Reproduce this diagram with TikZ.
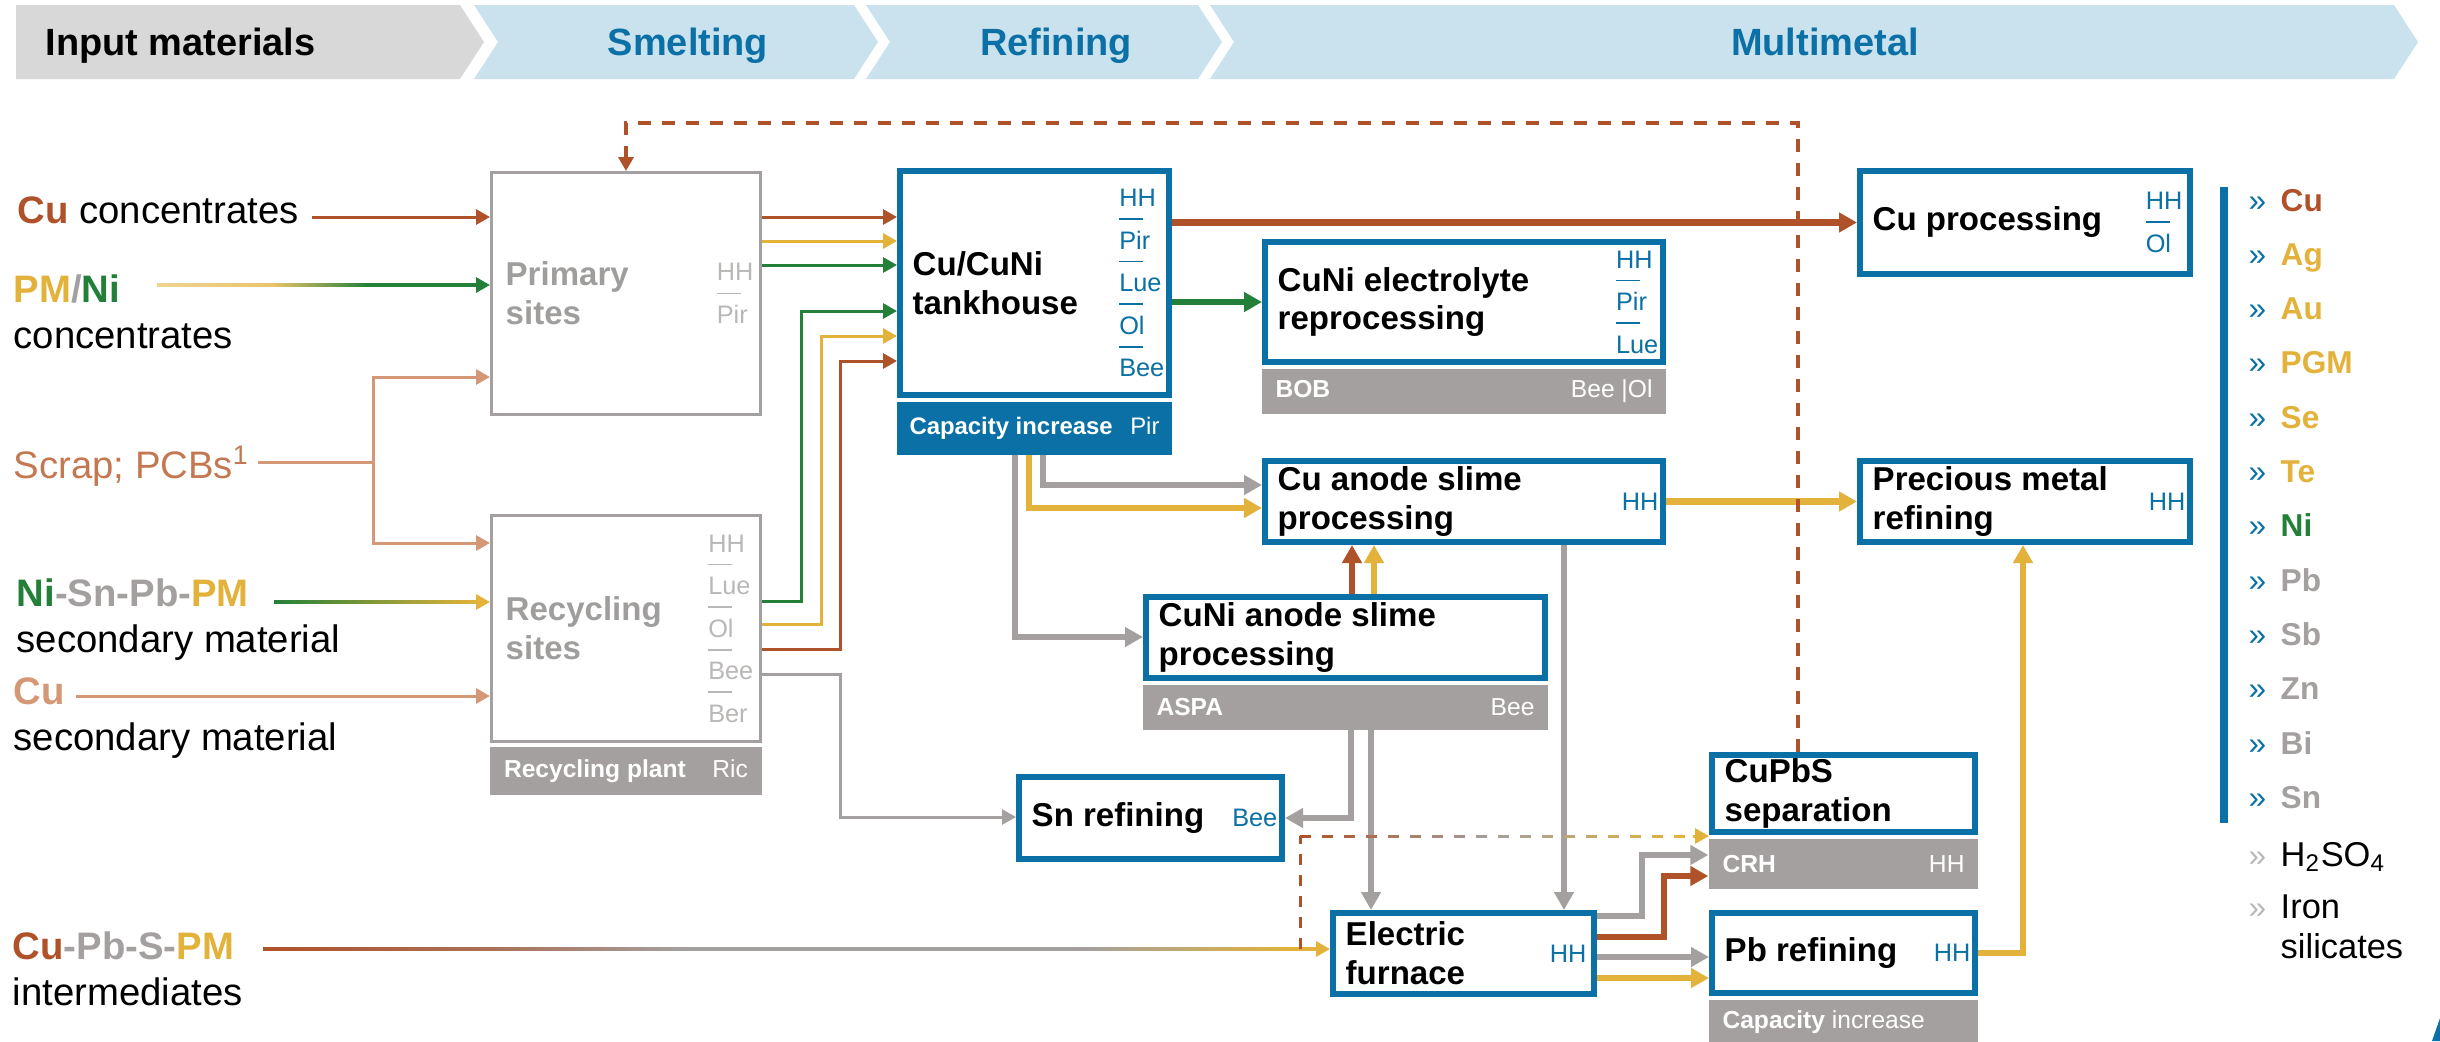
\documentclass[tikz,border=0pt]{standalone}
\usepackage{fontspec}
\setmainfont{Liberation Sans}
\usepackage{tikz}
\usetikzlibrary{calc, positioning, arrows.meta}

\definecolor{cbrown}{RGB}{176,82,41}
\definecolor{ctan}{RGB}{212,152,118}
\definecolor{ctantxt}{RGB}{196,120,82}
\definecolor{cyellow}{RGB}{226,178,58}
\definecolor{cgreen}{RGB}{36,128,57}
\definecolor{cgray}{RGB}{164,160,159}
\definecolor{cgraytxt}{RGB}{160,158,157}
\definecolor{cgraylt}{RGB}{186,184,183}
\definecolor{cblue}{RGB}{10,112,165}
\definecolor{hdrblue}{RGB}{202,226,237}
\definecolor{hdrgray}{RGB}{216,216,216}

\newcommand\insize{\fontsize{10.9pt}{13.2pt}\selectfont}
\newcommand\titlesize{\fontsize{9.4pt}{11pt}\selectfont\bfseries}
\newcommand\locsize{\fontsize{7.2pt}{12.1pt}\selectfont}
\newcommand\barsize{\fontsize{7pt}{8pt}\selectfont}
\newcommand\hdrsize{\fontsize{10.8pt}{13pt}\selectfont\bfseries}
\newcommand\lgsize{\fontsize{9pt}{11pt}\selectfont}
\newcommand\sepl[1]{\rlap{\raisebox{1.15em}{\rule{0.95em}{0.5pt}}}#1}

\pgfdeclarehorizontalshading{pmnishade}{100bp}{color(0bp)=(cyellow!55!white); color(25bp)=(cyellow!55!white); color(43bp)=(cyellow!75!white); color(58bp)=(cgreen); color(75bp)=(cgreen); color(100bp)=(cgreen)}
\pgfdeclarehorizontalshading{cupbsshade}{100bp}{color(0bp)=(cbrown); color(25bp)=(cbrown); color(36bp)=(cbrown!60!cgray); color(45bp)=(cgray); color(64bp)=(cgray); color(74bp)=(cyellow); color(100bp)=(cyellow)}

\begin{document}
\begin{tikzpicture}[x=0.1mm, y=-0.1mm,
    >={Triangle[length=1.4mm,width=1.5mm]},
    proc/.style={draw=cblue, line width=0.6mm, fill=white, inner sep=0pt},
    site/.style={draw=cgray, line width=0.3mm, fill=white, inner sep=0pt},
    title/.style={font=\titlesize, align=left, inner sep=0pt, anchor=west},
    loc/.style={font=\locsize, align=left, inner sep=0pt, anchor=east, text=cblue},
    bar/.style={fill=cgray, text=white, font=\barsize, inner sep=0pt, below=0.3mm of #1},
    thinflow/.style={line width=0.3mm, ->},
    fatflow/.style={line width=0.65mm, -{Triangle[length=1.8mm,width=1.9mm]}},
    hdr/.style={font=\hdrsize, inner sep=0pt, anchor=base},
    inlbl/.style={font=\insize, align=left, inner sep=0pt, anchor=north west},
    lg/.style={font=\lgsize\bfseries, inner sep=0pt, anchor=base west},
    lgq/.style={font=\lgsize, inner sep=0pt, anchor=base west}]

    \useasboundingbox (0,0) rectangle (2440,1041);

    \fill[hdrgray] (16,5) -- (460,5) -- (484,42) -- (460,79) -- (16,79) -- cycle;
    \foreach \a/\b in {474/854, 866/1198, 1210/2394}
      \fill[hdrblue] (\a,5) -- (\b,5) -- ++(24,37) -- (\b,79) -- (\a,79) -- ++(24,-37) -- cycle;
    \node[hdr, anchor=base west] (hIn) at (45,56) {Input materials};
    \node[hdr, text=cblue] (hSm) at (688,56) {Smelting};
    \node[hdr, text=cblue] (hRe) at (1056,56) {Refining};
    \node[hdr, text=cblue] (hMu) at (1825,56) {Multimetal};

    \node[inlbl] (cuLbl) at (17,196) {\textbf{\color{cbrown}Cu} concentrates};
    \node[inlbl] (pmLbl) at (13,274) {\textbf{\color{cyellow}PM\color{cgray}/\color{cgreen}Ni}\\concentrates};
    \node[inlbl, text=ctantxt] (scLbl) at (13,445) {Scrap; PCBs\textsuperscript{1}};
    \node[inlbl] (nsLbl) at (16,578) {\textbf{\color{cgreen}Ni\color{cgray}-Sn-Pb-\color{cyellow}PM}\\secondary material};
    \node[inlbl] (cu2Lbl) at (13,677) {\textbf{\color{ctan}Cu}\\secondary material};
    \node[inlbl] (cpLbl) at (12,931) {\textbf{\color{cbrown}Cu\color{cgray}-Pb-S-\color{cyellow}PM}\\intermediates};

    \node[site, minimum width=26.9mm, minimum height=24.2mm] (pri) at (626,293.5) {};
    \node[title, text=cgraytxt] (priT) at ([xshift=1.5mm]pri.west) {Primary\\sites};
    \node[loc, text=cgraylt] (priL) at ([xshift=-0.8mm]pri.east) {HH\\\sepl{Pir}};

    \node[site, minimum width=26.9mm, minimum height=22.6mm] (rec) at (626,628.5) {};
    \node[title, text=cgraytxt] (recT) at ([xshift=1.5mm]rec.west) {Recycling\\sites};
    \node[loc, text=cgraylt] (recL) at ([xshift=-0.8mm]rec.east) {HH\\\sepl{Lue}\\\sepl{Ol}\\\sepl{Bee}\\\sepl{Ber}};
    \node[bar=rec, minimum width=27.2mm, minimum height=4.85mm] (recB) {\makebox[24.4mm]{\textbf{Recycling plant}\hfill Ric}};

    \node[proc, minimum width=26.9mm, minimum height=22.4mm] (thk) at (1034.5,283) {};
    \node[title] (thkT) at ([xshift=1.5mm]thk.west) {Cu/CuNi\\tankhouse};
    \node[loc] (thkL) at ([xshift=-0.7mm]thk.east) {HH\\\sepl{Pir}\\\sepl{Lue}\\\sepl{Ol}\\\sepl{Bee}};
    \node[bar=thk, fill=cblue, minimum width=27.5mm, minimum height=5.3mm, font=\fontsize{6.8pt}{8pt}\selectfont] (thkB) {\makebox[25mm]{\textbf{Capacity increase}\hfill\ Pir}};

    \node[proc, minimum width=39.8mm, minimum height=12mm] (ele) at (1464,302) {};
    \node[title] (eleT) at ([xshift=1.5mm]ele.west) {CuNi electrolyte\\reprocessing};
    \node[loc] (eleL) at ([xshift=-0.7mm]ele.east) {HH\\\sepl{Pir}\\\sepl{Lue}};
    \node[bar=ele, minimum width=40.4mm, minimum height=4.5mm] (eleB) {\makebox[37.7mm]{\textbf{BOB}\hfill Bee |Ol}};

    \node[proc, minimum width=39.8mm, minimum height=8.1mm] (cas) at (1464,501.5) {};
    \node[title] (casT) at ([xshift=1.5mm]cas.west) {Cu anode slime\\processing};
    \node[loc] (casL) at ([xshift=-0.7mm]cas.east) {HH};

    \node[proc, minimum width=39.9mm, minimum height=8.1mm] (nas) at (1345.5,637.5) {};
    \node[title] (nasT) at ([xshift=1.5mm]nas.west) {CuNi anode slime\\processing};
    \node[bar=nas, minimum width=40.5mm, minimum height=4.5mm] (nasB) {\makebox[37.8mm]{\textbf{ASPA}\hfill Bee}};

    \node[proc, minimum width=26.3mm, minimum height=8.2mm] (snr) at (1150.5,818) {};
    \node[title] (snrT) at ([xshift=1.5mm]snr.west) {Sn refining};
    \node[loc] (snrL) at ([xshift=-0.7mm]snr.east) {Bee};

    \node[proc, minimum width=26.1mm, minimum height=8.1mm] (efu) at (1463.5,953.5) {};
    \node[title] (efuT) at ([xshift=1.5mm]efu.west) {Electric\\furnace};
    \node[loc] (efuL) at ([xshift=-1.0mm]efu.east) {HH};

    \node[proc, minimum width=26.3mm, minimum height=7.7mm] (cps) at (1843.5,793.5) {};
    \node[title] (cpsT) at ([xshift=1.5mm]cps.west) {CuPbS\\separation};
    \node[bar=cps, minimum width=26.9mm, minimum height=5mm] (cpsB) {\makebox[24.2mm]{\textbf{CRH}\hfill HH}};

    \node[proc, minimum width=26.3mm, minimum height=8mm] (pbr) at (1843.5,953) {};
    \node[title] (pbrT) at ([xshift=1.5mm]pbr.west) {Pb refining};
    \node[loc] (pbrL) at ([xshift=-0.7mm]pbr.east) {HH};
    \node[bar=pbr, minimum width=26.9mm, minimum height=4.5mm] (pbrB) {\makebox[24.2mm][l]{\textbf{Capacity} increase}};

    \node[proc, minimum width=33mm, minimum height=10.3mm] (cup) at (2025,222.5) {};
    \node[title] (cupT) at ([xshift=1.5mm]cup.west) {Cu processing};
    \node[loc] (cupL) at ([xshift=-1.0mm]cup.east) {HH\\\sepl{Ol}};

    \node[proc, minimum width=33mm, minimum height=8.1mm] (pmr) at (2025,501.5) {};
    \node[title] (pmrT) at ([xshift=1.5mm]pmr.west) {Precious metal\\refining};
    \node[loc] (pmrL) at ([xshift=-0.7mm]pmr.east) {HH};

    \draw[cblue, line width=0.8mm] (2224,187) -- (2224,823);
    \foreach \el/\col [count=\i from 0] in {Cu/cbrown, Ag/cyellow, Au/cyellow, PGM/cyellow, Se/cyellow, Te/cyellow, Ni/cgreen, Pb/cgray, Sb/cgray, Zn/cgray, Bi/cgray, Sn/cgray} {
      \node[lg, text=\col] (lg\el) at (2280,{211+\i*54.3}) {\el};
      \node[lgq, text=cblue] (lq\el) at (2248,{211+\i*54.3}) {»};
    }
    \node[lgq, font=\fontsize{9.8pt}{11.4pt}\selectfont] (lgH) at (2280,866) {H\textsubscript{2}SO\textsubscript{4}};
    \node[lgq, text=cgraylt] (lqH) at (2248,866) {»};
    \node[inlbl, font=\fontsize{9.8pt}{11.4pt}\selectfont] (lgFe) at (2280,894) {Iron\\silicates};
    \node[lgq, text=cgraylt] (lqFe) at (2248,918) {»};

    \coordinate (cuIn) at (312,217);
    \draw[thinflow, cbrown] (cuIn) -- (cuIn -| pri.west);

    \coordinate (pmIn) at (157,285);
    \shade[shading=pmnishade] ($(pmIn)+(0,-1.5)$) rectangle ($(pmIn -| pri.west)+(-14,1.5)$);
    \draw[thinflow, cgreen] ($(pmIn -| pri.west)+(-15,0)$) -- (pmIn -| pri.west);

    \coordinate (scIn) at (258,462);
    \coordinate (scJn) at (373,462);
    \draw[line width=0.3mm, ctan] (scIn) -- (scJn);
    \draw[thinflow, ctan] (scJn) |- (pri.west |- 0,377);
    \draw[thinflow, ctan] (scJn) |- (rec.west |- 0,543);

    \coordinate (nsIn) at (274,602);
    \shade[left color=cgreen, middle color=cgray, right color=cyellow] ($(nsIn)+(0,-1.5)$) rectangle ($(nsIn -| rec.west)+(-14,1.5)$);
    \draw[thinflow, cyellow] ($(nsIn -| rec.west)+(-15,0)$) -- (nsIn -| rec.west);

    \coordinate (cu2In) at (76,696);
    \draw[thinflow, ctan] (cu2In) -- (cu2In -| rec.west);

    \coordinate (cpIn) at (263,949);
    \shade[shading=cupbsshade] ($(cpIn)+(0,-1.5)$) rectangle ($(cpIn -| efu.west)+(-14,1.5)$);
    \draw[thinflow, cyellow] ($(cpIn -| efu.west)+(-15,0)$) -- (cpIn -| efu.west);

    \foreach \yy/\col in {217/cbrown, 241/cyellow, 265/cgreen}
      \draw[thinflow, \col] (pri.east |- 0,\yy) -- (thk.west |- 0,\yy);
    \foreach \ya/\xx/\yb/\col in {601/801/311/cgreen, 624/821/336/cyellow, 649/840/361/cbrown}
      \draw[thinflow, \col] (rec.east |- 0,\ya) -| (\xx,\yb) -- (thk.west |- 0,\yb);
    \draw[thinflow, cgray] (rec.east |- 0,674) -| (840,817) -- (snr.west |- 0,817);

    \draw[fatflow, cbrown] (thk.east |- cup.west) -- (cup.west);
    \draw[fatflow, cgreen] (thk.east |- ele.west) -- (ele.west);
    \draw[fatflow, cgray] (thkB.south -| 1043,0) |- (cas.west |- 0,485);
    \draw[fatflow, cyellow] (thkB.south -| 1029,0) |- (cas.west |- 0,508);
    \draw[fatflow, cgray] (thkB.south -| 1015,0) |- (nas.west |- 0,637);

    \draw[fatflow, cbrown] (nas.north -| 1352,0) -- (cas.south -| 1352,0);
    \draw[fatflow, cyellow] (nas.north -| 1374,0) -- (cas.south -| 1374,0);
    \draw[fatflow, cgray] (nasB.south -| 1351,0) |- (snr.east);
    \draw[fatflow, cgray] (nasB.south -| 1371,0) -- (efu.north -| 1371,0);
    \draw[fatflow, cgray] (cas.south -| 1564,0) -- (efu.north -| 1564,0);
    \draw[fatflow, cyellow] (cas.east) -- (pmr.west);

    \draw[fatflow, cgray] (efu.east |- 0,916) -| (1642,855) -- (cpsB.west |- 0,855);
    \draw[fatflow, cbrown] (efu.east |- 0,937) -| (1664,876) -- (cpsB.west |- 0,876);
    \draw[fatflow, cgray] (efu.east |- 0,957) -- (pbr.west |- 0,957);
    \draw[fatflow, cyellow] (efu.east |- 0,978) -- (pbr.west |- 0,978);
    \draw[fatflow, cyellow] (pbr.east |- 0,953) -| (pmr.south -| 2023,0);

    \coordinate (fbTop) at (1798,123);
    \draw[thinflow, cbrown, line width=0.4mm, dash pattern=on 1.3mm off 1.1mm] (cps.north -| fbTop) -- (fbTop) -| (pri.north);

    \coordinate (dsBot) at (1300,949);
    \coordinate (dsTop) at (1300,836);
    \draw[line width=0.3mm, cbrown, dash pattern=on 1.1mm off 1mm] (dsBot) -- (dsTop);
    \foreach \i in {0,...,17} {
      \pgfmathtruncatemacro\pg{min(100,\i*200/17)}
      \pgfmathtruncatemacro\py{max(0,\i*200/17-100)}
      \draw[line width=0.3mm, color=cyellow!\py!cgray!\pg!cbrown] ($(dsTop)+(\i*22,0)$) -- ++(11,0);
    }
    \draw[thinflow, cyellow] ($(dsTop -| cps.west)+(-16,0)$) -- (dsTop -| cps.west);

    \fill[cblue] (2432,1041) -- (2440,1041) -- (2440,1018) -- cycle;
  \end{tikzpicture}
\end{document}
